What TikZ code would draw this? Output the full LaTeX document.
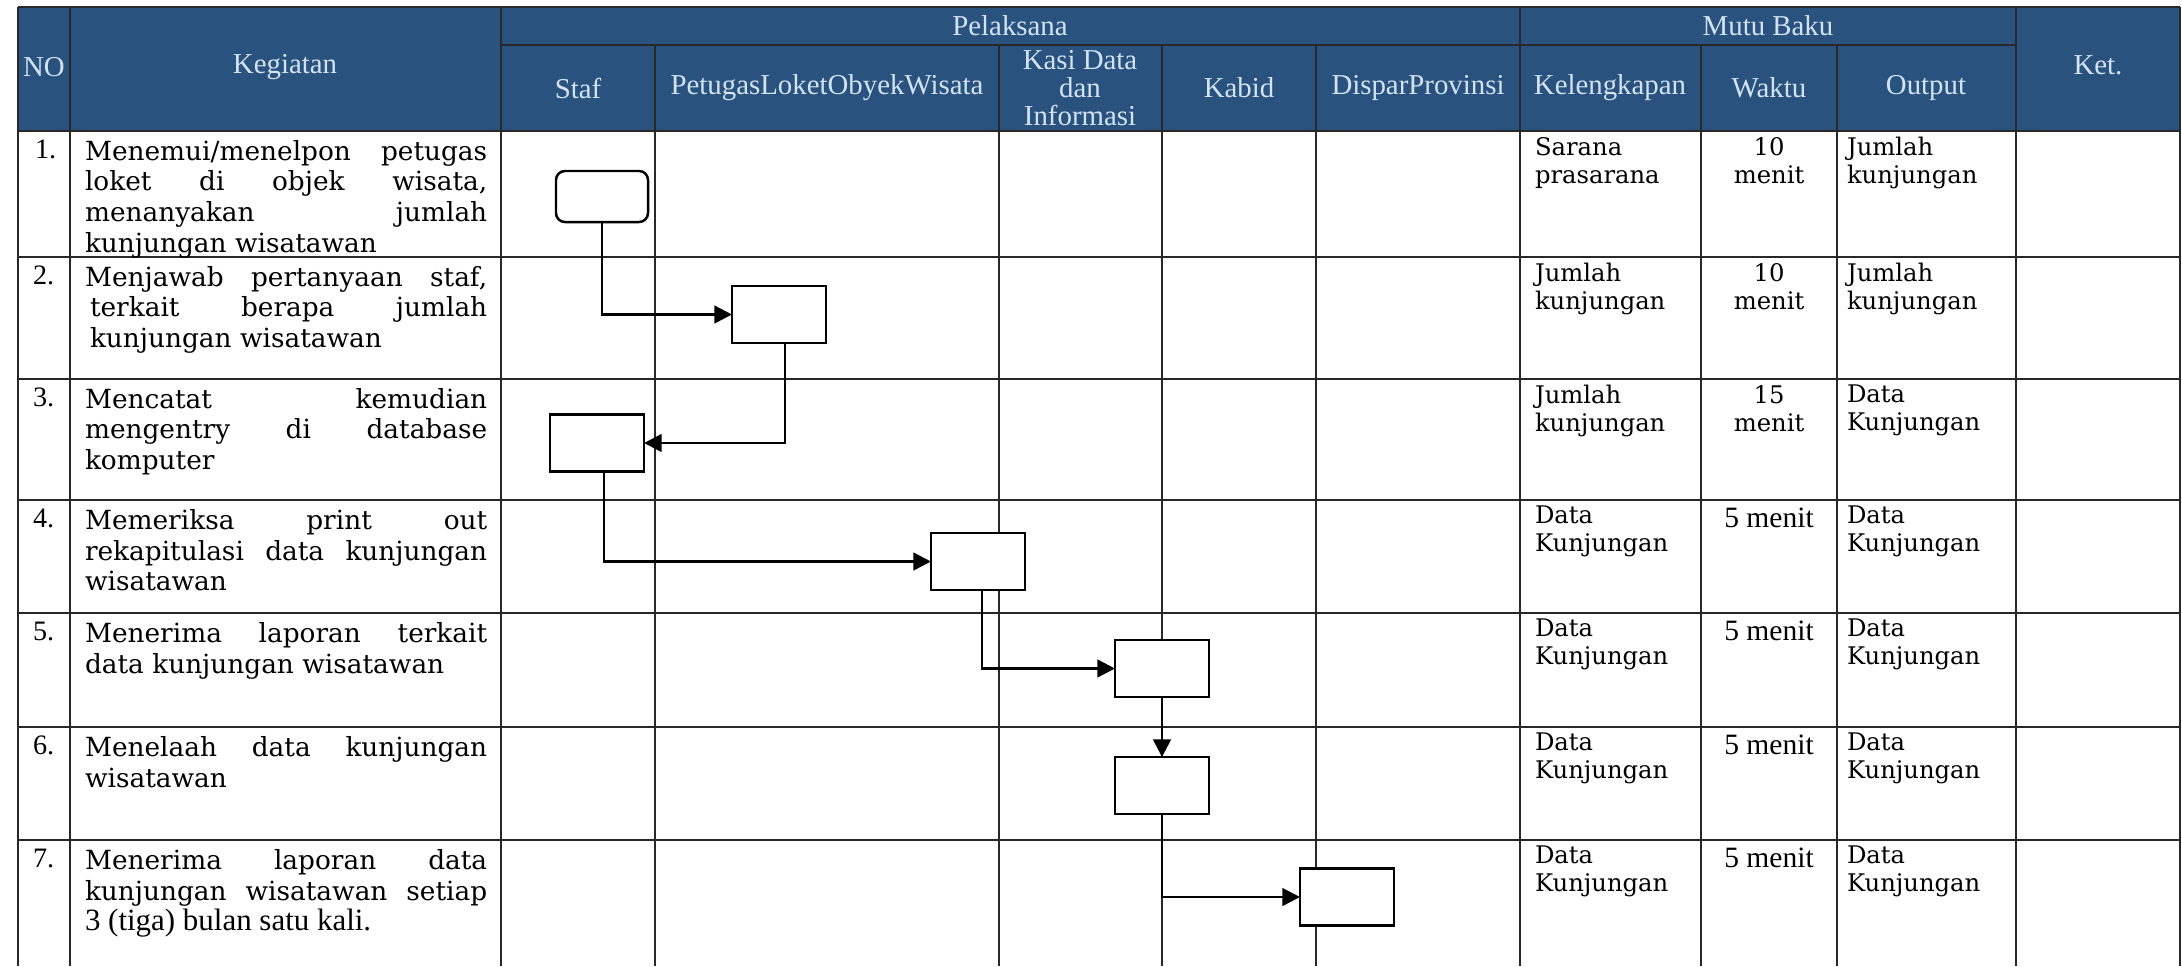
\documentclass[tikz,border=0pt]{standalone}
\usepackage{fontspec}
\setmainfont{DejaVu Serif}
\newfontfamily\tmsfont{Liberation Serif}
\usepackage{xcolor}
\definecolor{kepala}{RGB}{42,82,126}
\definecolor{teksKepala}{RGB}{210,228,244}
\definecolor{garis}{RGB}{40,40,40}
\usepackage{tikz}
\usetikzlibrary{positioning}
\usetikzlibrary{arrows.meta}
\tolerance=9999
\hbadness=10000

\begin{document}
\begin{tikzpicture}[x=0.01cm,y=-0.01cm,every node/.style={inner sep=0,outer sep=0},
	hd/.style={font=\tmsfont\fontsize{8.2}{8}\selectfont,text=teksKepala,align=center},
	kg/.style={anchor=north west,text width=4.02cm,align=justify,font=\fontsize{7.5}{8.8}\selectfont},
	nomor/.style={anchor=north west,font=\tmsfont\fontsize{8}{9}\selectfont},
	mutu/.style={anchor=north west,align=left,font=\fontsize{6.9}{8}\selectfont},
	waktu/.style={anchor=north,align=center,font=\fontsize{6.9}{8}\selectfont},
	lima/.style={anchor=north,font=\tmsfont\fontsize{8.4}{9}\selectfont},
	proses/.style={draw,fill=white,line width=0.7pt,minimum width=0.94cm,minimum height=0.57cm},
	mulai/.style={proses,rounded corners=0.09cm,minimum width=0.92cm,minimum height=0.51cm},
	alur/.style={-{Triangle[length=5pt,width=5pt]},line width=0.7pt},
	siku/.style={to path={|- (\tikztotarget)}}]
	\useasboundingbox (0,0) rectangle (2182,966);
	% kepala tabel
	\fill[kepala] (18,7) rectangle (2180,131);
	\draw[garis,line width=0.45pt] (18,7) -- (2180,7) (501,45) -- (2016,45);
	\foreach \y in {131,257,379,500,613,727,840}
		\draw[garis,line width=0.45pt] (18,\y) -- (2180,\y);
	\foreach \x in {18,70,501,1520,2016,2180}
		\draw[garis,line width=0.45pt] (\x,7) -- (\x,966);
	\foreach \x in {655,999,1162,1316,1701,1837}
		\draw[garis,line width=0.45pt] (\x,45) -- (\x,966);
	\node[hd] (no) at (44,67) {NO};
	\node[hd] (keg) at (285,67) {Kegiatan};
	\node[hd] (pel) at (1010,26) {Pelaksana};
	\node[hd] (mutu) at (1768,26) {Mutu Baku};
	\node[hd] (ket) at (2098,65) {Ket.};
	\node[hd] (staf) at (578,88) {Staf};
	\node[hd] (petugas) at (827,88) {PetugasLoketObyekWisata};
	\node[hd] (kasi) at (1080,88) {Kasi Data\\dan\\Informasi};
	\node[hd] (kabid) at (1239,88) {Kabid};
	\node[hd] (dispar) at (1418,88) {DisparProvinsi};
	\node[hd] (kel) at (1610,88) {Kelengkapan};
	\node[hd] (wkt) at (1769,88) {Waktu};
	\node[hd] (out) at (1926,88) {Output};
	% kegiatan
	\node[nomor] (n1) at (35,140) {1.};
	\node[nomor] (n2) at (33,266) {2.};
	\node[nomor] (n3) at (33,388) {3.};
	\node[nomor] (n4) at (33,509) {4.};
	\node[nomor] (n5) at (33,622) {5.};
	\node[nomor] (n6) at (33,736) {6.};
	\node[nomor] (n7) at (33,849) {7.};
	\node[kg] (k1) at (85,140) {Menemui/menelpon petugas\linebreak loket di objek wisata,\linebreak menanyakan jumlah\linebreak kunjungan wisatawan};
	\node[kg] (k2) at (85,266) {Menjawab pertanyaan staf,\linebreak \hspace*{0.05cm}terkait berapa jumlah\linebreak \hspace*{0.05cm}kunjungan wisatawan};
	\node[kg] (k3) at (85,388) {Mencatat kemudian\linebreak mengentry di database\linebreak komputer};
	\node[kg] (k4) at (85,509) {Memeriksa print out\linebreak rekapitulasi data kunjungan\linebreak wisatawan};
	\node[kg] (k5) at (85,622) {Menerima laporan terkait\linebreak data kunjungan wisatawan};
	\node[kg] (k6) at (85,736) {Menelaah data kunjungan\linebreak wisatawan};
	\node[kg] (k7) at (85,849) {Menerima laporan data\linebreak kunjungan wisatawan setiap\linebreak {\tmsfont\fontsize{8.8}{9}\selectfont 3 (tiga) bulan satu kali.}};
	% mutu baku
	\node[mutu] (kel1) at (1535,137) {Sarana\\prasarana};
	\node[waktu] (w1) at (1769,137) {10\\menit};
	\node[mutu] (o1) at (1847,137) {Jumlah\\kunjungan};
	\node[mutu] (kel2) at (1535,263) {Jumlah\\kunjungan};
	\node[waktu] (w2) at (1769,263) {10\\menit};
	\node[mutu] (o2) at (1847,263) {Jumlah\\kunjungan};
	\node[mutu] (kel3) at (1535,385) {Jumlah\\kunjungan};
	\node[waktu] (w3) at (1769,385) {15\\menit};
	\node[mutu] (o3) at (1847,385) {Data\\Kunjungan};
	\foreach \y in {500,613,727,840} {
		\node[mutu] (kel\y) at (1535,\y+6) {Data\\Kunjungan};
		\node[lima] (w\y) at (1769,\y+8) {5 menit};
		\node[mutu] (o\y) at (1847,\y+6) {Data\\Kunjungan};
	}
	% alur
	\node[mulai] (b1) at (602,196.5) {};
	\node[proses] (b2) at (779,314.5) {};
	\node[proses] (b3) at (597,443) {};
	\node[proses] (b4) at (978,561.5) {};
	\node[proses] (b5) at (1162,668.5) {};
	\node[proses] (b6) [below=0.6cm of b5] {};
	\node[proses] (b7) at (1347,897) {};
	\path[alur]
		(b1) edge[siku] (b2)
		([xshift=0.06cm]b2.south) edge[siku] (b3)
		([xshift=0.07cm]b3.south) edge[siku] (b4)
		([xshift=0.04cm]b4.south) edge[siku] (b5)
		(b5) edge (b6)
		(b6) edge[siku] (b7);
\end{tikzpicture}
\end{document}
